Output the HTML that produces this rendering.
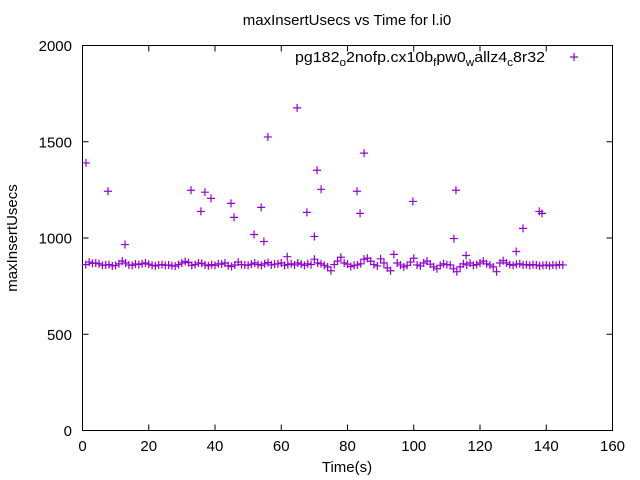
<!DOCTYPE html>
<html><head><meta charset="utf-8"><style>
html,body{margin:0;padding:0;background:#fff}
svg{display:block;font-family:"Liberation Sans",sans-serif}
</style></head><body>
<svg id="chart" width="640" height="480">
<rect x="0" y="0" width="640" height="480" fill="#fff"/>
<text x="347" y="25" font-size="15" text-anchor="middle">maxInsertUsecs vs Time for l.i0</text>
<g id="axes"></g>
<g id="marks"></g>
<text x="347" y="472" font-size="15" text-anchor="middle">Time(s)</text>
<text transform="translate(17,238) rotate(-90)" font-size="15" text-anchor="middle">maxInsertUsecs</text>
<g>
<text x="295" y="62" font-size="15" textLength="250" lengthAdjust="spacingAndGlyphs">pg182<tspan font-size="11" dy="4">o</tspan><tspan dy="-4">2nofp.cx10b</tspan><tspan font-size="11" dy="4">f</tspan><tspan dy="-4">pw0</tspan><tspan font-size="11" dy="4">w</tspan><tspan dy="-4">allz4</tspan><tspan font-size="11" dy="4">c</tspan><tspan dy="-4">8r32</tspan></text>
<path d="M570,57h8M574,53v8" stroke="#9400d3" stroke-width="1.2"/>
</g>
</svg>
<script>
const xTicks=[0,20,40,60,80,100,120,140,160];
const yTicks=[0,500,1000,1500,2000];
const baseVals=[862,875,868,870,866,858,860,862,855,858,866,880,870,860,858,865,862,866,870,864,858,855,860,862,858,860,856,854,862,870,878,872,858,862,870,868,860,856,862,858,866,864,870,856,852,860,875,862,860,858,864,870,862,858,866,872,860,864,866,870,858,862,866,860,870,864,858,866,862,890,870,866,858,850,830,862,880,900,870,864,852,858,860,866,890,895,880,862,855,892,870,845,830,915,870,860,850,858,875,895,860,855,870,880,864,850,840,858,866,862,860,840,825,850,866,860,870,858,862,870,880,866,860,850,825,870,882,870,862,858,864,866,860,862,858,862,860,855,858,860,856,860,858,862,860];
const outT=[1.06,7.71,12.83,32.77,35.74,36.95,38.79,44.83,45.75,51.79,53.94,54.76,55.97,61.81,64.79,67.74,69.99,70.81,72.03,82.87,83.8,85.01,99.74,112.12,112.74,115.8,130.93,132.98,137.9,138.72];
const outV=[1390,1243,966,1248,1138,1238,1206,1180,1107,1018,1159,982,1525,903,1676,1133,1008,1352,1253,1243,1128,1441,1190,997,1248,909,930,1050,1138,1128];
const L=82.5,R=612.5,T=45.5,B=430.5;
const X=t=>L+t*((R-L)/160), Y=v=>B-v*((B-T)/2000);
const NS="http://www.w3.org/2000/svg";
const axes=document.getElementById('axes'), marks=document.getElementById('marks');
const frame=document.createElementNS(NS,'rect');
frame.setAttribute('x',L);frame.setAttribute('y',T);frame.setAttribute('width',R-L);frame.setAttribute('height',B-T);
frame.setAttribute('fill','none');frame.setAttribute('stroke','#000');frame.setAttribute('stroke-width','1');


axes.appendChild(frame);
xTicks.forEach(t=>{
 const x=X(t);
 const p=document.createElementNS(NS,'path');
 p.setAttribute('d',`M${x},${B}v-6M${x},${T}v6`);p.setAttribute('stroke','#000');
 
 
 axes.appendChild(p);
 const tx=document.createElementNS(NS,'text');
 tx.setAttribute('x',x);tx.setAttribute('y',451);tx.setAttribute('font-size','15');tx.setAttribute('text-anchor','middle');
 tx.textContent=t;
 
 
 axes.appendChild(tx);
});
yTicks.forEach(v=>{
 const y=Y(v);
 const p=document.createElementNS(NS,'path');
 p.setAttribute('d',`M${L},${y}h6M${R},${y}h-6`);p.setAttribute('stroke','#000');
 
 
 axes.appendChild(p);
 const tx=document.createElementNS(NS,'text');
 tx.setAttribute('x',72);tx.setAttribute('y',y+5.5);tx.setAttribute('font-size','15');tx.setAttribute('text-anchor','end');
 tx.textContent=v;
 
 
 axes.appendChild(tx);
});
function plus(t,v){
 const x=X(t),y=Y(v);
 const p=document.createElementNS(NS,'path');
 p.setAttribute('d',`M${x-4},${y}h8M${x},${y-4}v8`);
 p.setAttribute('stroke','#9400d3');p.setAttribute('stroke-width','1.2');
 
 
 marks.appendChild(p);
}
baseVals.forEach((v,i)=>plus(i+1,v));
outT.forEach((t,i)=>plus(t,outV[i]));
</script>
</body></html>
